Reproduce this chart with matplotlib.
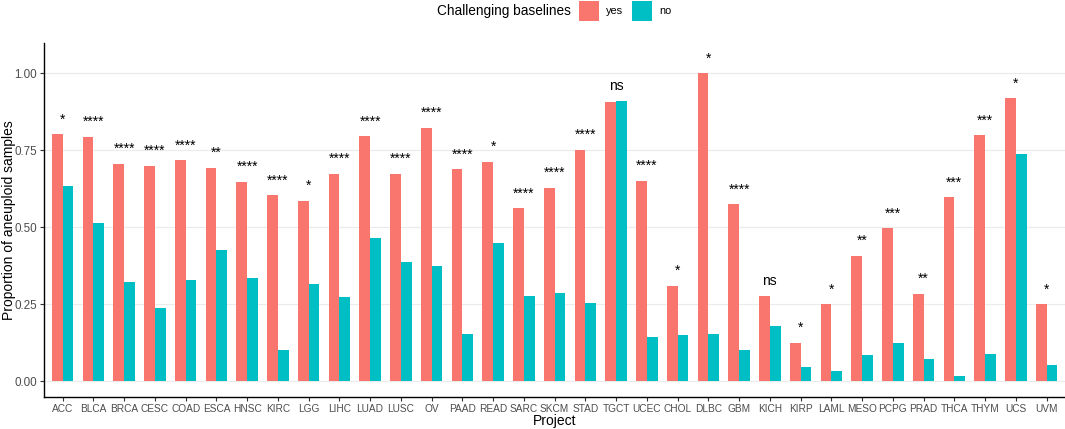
import matplotlib
matplotlib.use("Agg")
import matplotlib.pyplot as plt
from matplotlib.patches import Rectangle
import numpy as np

plt.rcParams['font.family'] = ['Liberation Sans', 'DejaVu Sans']

projects = ["ACC", "BLCA", "BRCA", "CESC", "COAD", "ESCA", "HNSC", "KIRC", "LGG", "LIHC",
            "LUAD", "LUSC", "OV", "PAAD", "READ", "SARC", "SKCM", "STAD", "TGCT", "UCEC",
            "CHOL", "DLBC", "GBM", "KICH", "KIRP", "LAML", "MESO", "PCPG", "PRAD", "THCA",
            "THYM", "UCS", "UVM"]
yes_vals = [0.802, 0.795, 0.707, 0.701, 0.718, 0.694, 0.648, 0.605, 0.587, 0.675,
            0.796, 0.675, 0.824, 0.689, 0.713, 0.563, 0.629, 0.752, 0.906, 0.652,
            0.311, 1.000, 0.575, 0.278, 0.125, 0.250, 0.408, 0.498, 0.285, 0.599,
            0.800, 0.919, 0.250]
no_vals = [0.635, 0.514, 0.324, 0.237, 0.329, 0.425, 0.334, 0.103, 0.317, 0.275,
           0.465, 0.386, 0.374, 0.153, 0.449, 0.277, 0.286, 0.254, 0.912, 0.145,
           0.150, 0.155, 0.101, 0.181, 0.048, 0.033, 0.085, 0.125, 0.072, 0.018,
           0.089, 0.740, 0.052]
signif = ["*", "****", "****", "****", "****", "**", "****", "****", "*", "****",
          "****", "****", "****", "****", "*", "****", "****", "****", "ns", "****",
          "*", "*", "****", "ns", "*", "*", "**", "***", "**", "***",
          "***", "*", "*"]
group_labels = ["yes", "no"]
y_ticks = [0.0, 0.25, 0.50, 0.75, 1.00]
y_tick_labels = ["0.00", "0.25", "0.50", "0.75", "1.00"]

col_yes = "#F8766D"
col_no = "#00BFC4"

fig = plt.figure(figsize=(10.65, 4.29), dpi=100)
ax = fig.add_axes([0.0415, 0.0753, 0.9585, 0.8252])

x = np.arange(len(projects))
w = 0.35
ax.bar(x - w / 2, yes_vals, width=w, color=col_yes, zorder=2)
ax.bar(x + w / 2, no_vals, width=w, color=col_no, zorder=2)

for xi, a, b, s in zip(x, yes_vals, no_vals, signif):
    ax.annotate(s, xy=(xi, max(a, b)), xytext=(0, 7.6), textcoords="offset points",
                ha="center", va="baseline", fontsize=10.0, color="black")

ax.set_xlim(-0.6, len(projects) - 0.4)
ax.set_ylim(-0.05, 1.10)
ax.set_yticks(y_ticks)
ax.set_yticklabels(y_tick_labels)
ax.set_xticks(x)
ax.set_xticklabels(projects)
ax.tick_params(axis="x", labelsize=7.3, colors="#333333", length=3, width=0.8, pad=2,
               labelcolor="#4D4D4D")
ax.tick_params(axis="y", labelsize=8.4, colors="#333333", length=3, width=0.8, pad=2,
               labelcolor="#4D4D4D")
ax.yaxis.grid(True, color="#EBEBEB", linewidth=0.8, zorder=0)
ax.set_axisbelow(True)
for sp in ["top", "right"]:
    ax.spines[sp].set_visible(False)
for sp in ["left", "bottom"]:
    ax.spines[sp].set_linewidth(1.0)
    ax.spines[sp].set_color("black")

ax.set_xlabel("Project", fontsize=10.0, labelpad=0)
ax.set_ylabel("Proportion of aneuploid samples", fontsize=10.0, va="center")
ax.yaxis.set_label_coords(-0.0345, 0.5)

# legend (title on the left, keys horizontal)
W, H = 1065.0, 429.0
ly = 1 - 10.5 / H
fig.text(437 / W, ly, "Challenging baselines", fontsize=9.85, ha="left", va="center")
for (kx, tx), col, lab in zip([(579, 606), (632, 659)], [col_yes, col_no], group_labels):
    fig.patches.append(Rectangle((kx / W, 1 - 20.5 / H), 20 / W, 19.5 / H,
                                 transform=fig.transFigure, facecolor=col,
                                 edgecolor="none"))
    fig.text(tx / W, ly, lab, fontsize=7.9, ha="left", va="center")

fig.savefig("out.png", dpi=100)
